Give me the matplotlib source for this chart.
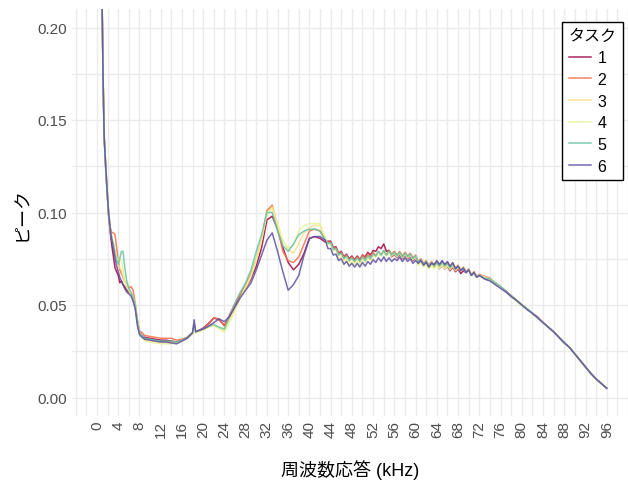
import numpy as np
import matplotlib
matplotlib.use("Agg")
import matplotlib.pyplot as plt

plt.rcParams['font.family'] = ['Liberation Sans', 'Noto Sans CJK JP']

# 周波数 (kHz): 低域は細かく、リップル帯は0.5刻み
freq_low = [0.9, 1.0, 1.15, 1.35, 1.6, 1.9, 2.2, 2.5, 2.8, 3.1, 3.4, 3.7, 4.0,
            4.3, 4.6, 4.9, 5.2, 5.6, 6.0, 6.4, 6.8, 7.2, 7.6, 8.0, 8.5]
freq_mid = [9, 10, 11, 12, 13, 14, 15, 16, 17, 18, 18.3, 18.6, 19, 20, 21, 22,
            23, 24, 25, 26, 27, 28, 29, 30, 31, 32, 33, 34, 35, 36, 37, 38, 39,
            40, 41, 42, 43]
freq_ripple = list(np.arange(43.5, 72.01, 0.5))
freq_high = list(range(73, 97))
freq = np.array(freq_low + freq_mid + freq_ripple + freq_high, dtype=float)

# ピーク値 (x1000)
task1 = [222, 205, 172, 141, 126, 111, 98, 89, 82, 76, 70, 68, 66, 62, 63, 61, 60, 58, 57, 56, 53, 49, 41, 35, 33.5,
         32.5, 32, 31.5, 31, 31, 30.5, 30, 31, 32.5, 35, 39, 35.5, 36, 37.5, 40, 43, 42, 39, 44, 50, 55, 59, 64, 71, 81,
         96, 98, 91, 81, 73, 69, 72, 78, 86, 87, 86, 84,
         84.5, 84.5, 81, 81.5, 78, 79, 76, 77.5, 75, 76.5,
         74.5, 76.5, 74.5, 77, 76, 78.5, 77, 79.5, 79, 81.5,
         80.5, 83, 79, 79.5, 76, 77.5, 75.5, 77.5, 75, 77,
         75, 76.5, 74, 75.5, 72.5, 74, 71.5, 73, 70.5, 72.5,
         70.5, 72.5, 69.5, 71.5, 69.5, 71, 68.5, 70.5, 68, 69.5,
         67, 68.5, 67.5, 69, 66, 67.5, 65, 66,
         64.5, 63.5, 61.5, 59.5, 57.5, 55, 52.5, 50, 48, 45.5, 43.5, 40.5, 38, 35.5, 32.5, 29.5, 27, 23.5, 20, 16.5,
         13, 10, 7.5, 5]
task2 = [222, 205, 173, 142, 128, 113, 100, 92, 89, 89, 88, 81, 74, 69, 67, 65, 63, 61, 59, 60, 58, 51, 42, 36, 35,
         33.5, 33, 32.5, 32, 32, 32, 31, 31.5, 32.5, 35, 39, 35.5, 36, 37, 39.5, 43, 42.5, 38.5, 45, 51, 56, 61, 67, 75,
         86, 101, 104, 92, 79, 74, 73, 76, 83, 90, 91, 90, 85.5,
         84, 84, 80.5, 81, 77.5, 78.5, 75.5, 77, 74.5, 76,
         74, 76, 74, 77, 75, 77.5, 76, 78.5, 76.5, 79,
         77, 79.5, 77, 79.5, 77.5, 79, 77, 79, 76.5, 78.5,
         76.5, 78, 75.5, 77, 73.5, 75, 72.5, 74, 71.5, 73.5,
         71.5, 73.5, 71.5, 73.5, 71.5, 73, 70.5, 72.5, 70, 71.5,
         69, 70.5, 68, 69.5, 66.5, 68, 65.5, 66.5,
         65.5, 64.5, 62, 60, 57.5, 55, 52.5, 50, 48, 45.5, 43, 40.5, 38, 35.5, 32.5, 29.5, 27, 23.5, 20, 16.5,
         13, 10, 7.5, 5]
task3 = [222, 205, 172, 141, 127, 112, 99, 91, 86, 83, 79, 75, 72, 70, 69, 66, 63, 60, 58, 56, 54, 50, 41, 35, 33,
         31, 30.5, 30, 29.5, 29.5, 29.5, 29.5, 30.5, 32, 34.5, 38, 35, 35.5, 36.5, 38, 39, 37.5, 36, 42, 48, 54, 59, 65,
         74, 85, 99, 103, 94, 85, 80, 78, 83, 89, 92, 93, 93, 86,
         83, 83, 79.5, 80, 76.5, 77.5, 74.5, 76, 73.5, 75,
         73, 75, 73, 75.5, 73.5, 76, 74.5, 77, 76, 78.5,
         76.5, 79, 76.5, 78.5, 76.5, 78, 76, 78, 75.5, 77.5,
         75.5, 77, 74.5, 76, 72, 73.5, 71, 72.5, 70, 72,
         70, 72, 70, 72, 70, 71.5, 69, 71, 68.5, 70,
         68.5, 70, 67.5, 69, 66, 67.5, 65, 66,
         65, 64, 62, 59.5, 57, 54.5, 52, 50, 48, 45.5, 43, 40.5, 38, 35.5, 32.5, 29.5, 27, 23.5, 20, 16.5,
         13, 10, 7.5, 5]
task4 = [222, 205, 172, 141, 127, 112, 99, 91, 86, 83, 79, 76, 74, 75, 74, 69, 64, 60, 58, 56, 54, 50, 41, 34, 32.5,
         30.5, 30, 29.5, 29, 29, 29, 29.5, 30.5, 32, 34.5, 38, 35, 35.5, 36.5, 38, 39, 37, 35.5, 41, 47, 54, 60, 66, 75,
         86, 100, 102, 93, 84, 81, 82, 90, 93, 94, 94, 94, 86,
         83, 83, 79.5, 80, 75, 76, 73, 74.5, 72, 73.5,
         71.5, 73.5, 71.5, 75, 73, 75.5, 74, 76.5, 76, 78.5,
         76.5, 79, 76.5, 78.5, 76.5, 78, 76, 78, 75.5, 77.5,
         75.5, 77, 74.5, 76, 71.5, 73, 70.5, 72, 69.5, 71.5,
         69.5, 71.5, 69.5, 71.5, 69.5, 71, 70, 72, 69.5, 71,
         68.5, 70, 67.5, 69, 66, 67.5, 65, 66,
         65, 63.5, 61.5, 59.5, 57, 54.5, 52, 49.5, 48, 45.5, 43, 40.5, 38, 35.5, 32.5, 29.5, 27, 23.5, 20, 16.5,
         13, 10, 7.5, 5]
task5 = [222, 205, 172, 141, 127, 112, 99, 91, 86, 83, 78, 74, 72, 75, 79, 79, 71, 63, 59, 57, 54, 50, 41, 35, 33.5,
         32, 31.5, 31, 30.5, 30.5, 30.5, 30, 31, 32.5, 35, 39, 35.5, 36, 37, 38.5, 39.5, 38, 37, 44, 51, 57, 62, 69, 79,
         88, 100, 100, 90, 82, 79, 83, 88, 90, 91, 91, 90, 85,
         83.5, 83.5, 80, 80.5, 77, 78, 75, 76.5, 74, 75.5,
         73.5, 75.5, 73.5, 76, 74, 76.5, 75, 77.5, 76.5, 79,
         77, 79.5, 77, 79, 77, 78.5, 76.5, 78.5, 76, 78,
         76, 77.5, 75, 76.5, 73, 74.5, 72, 73.5, 71, 73,
         71, 73, 71, 73, 71, 72.5, 70, 72, 69.5, 71,
         68.5, 70, 67.5, 69, 66, 67.5, 65, 66,
         64.5, 64, 62, 60, 57.5, 55, 52.5, 50, 48, 45.5, 43, 40.5, 38, 35.5, 32.5, 30, 27, 23.5, 20, 16.5,
         13, 10, 7.5, 5]
task6 = [222, 205, 172, 141, 127, 112, 99, 91, 85, 80, 75, 71, 68, 65, 63, 61, 59, 57, 56, 55, 52, 48, 39, 34, 32.5,
         31.5, 31, 30.5, 30, 30, 29.5, 29, 30.5, 32, 35, 42, 35.5, 36, 37, 38.5, 40.5, 42.5, 41, 44, 49, 54, 58, 62, 69,
         77, 85, 89, 79, 68, 58, 61, 66, 77, 86, 87, 87, 85,
         80.5, 80.5, 77, 77.5, 74, 75, 72, 73.5, 71, 72.5,
         70.5, 72.5, 70.5, 73, 71, 73.5, 72, 74.5, 73, 75.5,
         73.5, 76, 73.5, 75.5, 73.5, 75, 74, 76, 73.5, 75.5,
         73.5, 75, 72.5, 74, 72.5, 74, 71.5, 73, 70.5, 72.5,
         72, 74, 72, 74, 72, 73.5, 71, 73, 69.5, 71,
         68.5, 70, 67.5, 69, 66, 67.5, 65, 66,
         64, 63, 61, 59, 57, 54.5, 52.5, 50, 47.5, 45.5, 43, 40.5, 38, 35.5, 32.5, 29.5, 27, 23.5, 20, 16.5,
         13, 10, 7.5, 5]

tasks = ['1', '2', '3', '4', '5', '6']
colors = ['#9E0142', '#F46D43', '#FEE08B', '#E6F598', '#66C2A5', '#5E4FA2']
series = [task1, task2, task3, task4, task5, task6]

xticks = np.arange(0, 97, 4)
yticks = [0.0, 0.05, 0.10, 0.15, 0.20]
ytick_labels = ['0.00', '0.05', '0.10', '0.15', '0.20']

fig = plt.figure(figsize=(6.28, 4.81), dpi=100)
ax = fig.add_axes([71.5 / 628, 64 / 481, 1 - 71.5 / 628, 407 / 481])

for name, col, vals in zip(tasks, colors, series):
    ax.plot(freq, np.array(vals) / 1000, color=col, lw=1.1, alpha=0.85, label=name)

ax.set_xlim(-4.8, 99.9)
ax.set_ylim(-0.01, 0.21)
ax.set_xticks(xticks)
ax.set_xticklabels([str(t) for t in xticks], rotation=90)
ax.set_xticks(np.arange(-4, 101, 2), minor=True)
ax.set_yticks(yticks)
ax.set_yticklabels(ytick_labels)
ax.set_yticks([0.025, 0.075, 0.125, 0.175], minor=True)
ax.tick_params(which='both', length=0, labelsize=11, labelcolor='#4D4D4D')
ax.tick_params(axis='x', pad=3)
ax.tick_params(axis='y', pad=3)
ax.grid(which='both', color='#EBEBEB', lw=1.0)
ax.set_axisbelow(True)
for s in ax.spines.values():
    s.set_visible(False)

fig.text(350 / 628, 1 - 470 / 481, '周波数応答 (kHz)', ha='center', va='center', fontsize=13)
fig.text(23 / 628, 1 - 214 / 481, 'ピーク', ha='center', va='center', rotation=90, fontsize=13)

leg = ax.legend(title='タスク', loc='upper right', bbox_to_anchor=(623 / 628, 1 - 23 / 481),
                bbox_transform=fig.transFigure, fontsize=11.5, title_fontsize=11.5,
                frameon=True, fancybox=False, edgecolor='black', framealpha=1,
                handlelength=1.4, handletextpad=0.4, labelspacing=0.42, borderpad=0.4,
                borderaxespad=0, alignment='left')
leg.get_frame().set_linewidth(1.0)

fig.savefig('out.png', dpi=100)
